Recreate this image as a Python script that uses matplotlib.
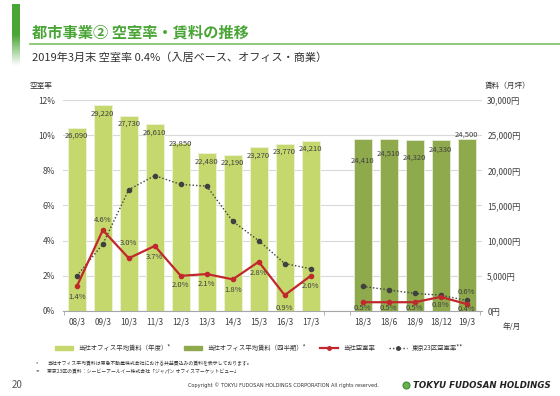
import numpy as np
import matplotlib.pyplot as plt
from matplotlib.patches import Patch
from matplotlib.lines import Line2D
from matplotlib.colors import LinearSegmentedColormap

plt.rcParams['font.family'] = ['Noto Sans CJK JP', 'DejaVu Sans']

# data
annual_labels = ['08/3', '09/3', '10/3', '11/3', '12/3', '13/3', '14/3', '15/3', '16/3', '17/3']
annual_rent = [26090, 29220, 27730, 26610, 23850, 22480, 22190, 23270, 23770, 24210]
annual_vac = [1.4, 4.6, 3.0, 3.7, 2.0, 2.1, 1.8, 2.8, 0.9, 2.0]
annual_tokyo = [2.0, 3.8, 6.9, 7.7, 7.2, 7.1, 5.1, 4.0, 2.7, 2.4]

quarter_labels = ['18/3', '18/6', '18/9', '18/12', '19/3']
quarter_rent = [24410, 24510, 24320, 24330, 24500]
quarter_vac = [0.5, 0.5, 0.5, 0.8, 0.4]
quarter_tokyo = [1.4, 1.2, 1.0, 0.9, 0.6]

# styles
c_light = '#c5d86d'
c_dark = '#8eaa4c'
c_red = '#c0282d'
c_dot = '#404040'
c_text = '#404040'

xa = np.arange(len(annual_labels))
xq = np.arange(len(quarter_labels)) + len(annual_labels) + 1

fig = plt.figure(figsize=(5.6, 3.96), dpi=100)

# left green gradient bar
gax = fig.add_axes([12 / 560, 1 - 66 / 396, 8 / 560, 62 / 396])
cmap = LinearSegmentedColormap.from_list('g', ['#4aa537', '#4aa537', '#ffffff'])
grad = np.linspace(0, 1, 100).reshape(-1, 1)
gax.imshow(grad, aspect='auto', cmap=cmap)
gax.axis('off')

# title
fig.text(32 / 560, 1 - 33 / 396, '都市事業② 空室率・賃料の推移', fontsize=11, fontweight='bold',
         color='#4aa537', va='center', ha='left')
fig.add_artist(Line2D([30 / 560, 1.0], [1 - 44 / 396, 1 - 44 / 396], color='#7cc060', lw=1.2))
fig.text(32 / 560, 1 - 58 / 396, '2019年3月末 空室率 0.4%（入居ベース、オフィス・商業）', fontsize=8,
         color='#333333', va='center', ha='left')

ax = fig.add_axes([63.3 / 560, 1 - 311 / 396, (481.7 - 63.3) / 560, 211 / 396])
ax2 = ax.twinx()
ax.set_zorder(ax2.get_zorder() + 1)
ax.patch.set_visible(False)

ax.set_xlim(-0.52, 15.58)
ax.set_ylim(0, 12)
ax2.set_ylim(0, 30000)

# grid and bars on the rent axis
ax2.set_yticks(np.arange(0, 30001, 5000))
ax2.yaxis.grid(True, color='#d9d9d9', lw=0.8)
ax2.set_axisbelow(True)
ax2.bar(xa, annual_rent, width=0.69, color=c_light, edgecolor='#eef3d8', lw=0.6)
ax2.bar(xq, quarter_rent, width=0.7, color=c_dark, edgecolor='#e6eed8', lw=0.6)

a_off = [-8, -8, -8, -9, 0, -9, -8, -8, -8, -8]
q_off = [-21, -15, -18, -10, 4]
for x, v, o in zip(list(xa) + list(xq), annual_rent + quarter_rent, a_off + q_off):
    ax2.annotate(f'{v:,}', (x, v), xytext=(0, o), textcoords='offset pixels',
                 ha='center', va='center', fontsize=5.5, color=c_text)

# vacancy lines
ax.plot(xa, annual_tokyo, ls=(0, (1, 1.5)), lw=1, color=c_dot, marker='o', ms=3)
ax.plot(xq, quarter_tokyo, ls=(0, (1, 1.5)), lw=1, color=c_dot, marker='o', ms=3)
ax.plot(xa, annual_vac, color=c_red, lw=1.6, marker='o', ms=3)
ax.plot(xq, quarter_vac, color=c_red, lw=1.6, marker='o', ms=3)

va_off = [-11, 10, 15, -11, -9, -10, -11, -11, -13, -10]
vq_off = [-6, -6, -6, -8, -5]
for x, v, o in zip(list(xa) + list(xq), annual_vac + quarter_vac, va_off + vq_off):
    ax.annotate(f'{v:.1f}%', (x, v), xytext=(0, o), textcoords='offset pixels',
                ha='center', va='center', fontsize=5.5, color=c_text)
ax.annotate(f'{quarter_tokyo[-1]:.1f}%', (xq[-1], quarter_tokyo[-1]), xytext=(0, 8),
            textcoords='offset pixels', ha='center', va='center', fontsize=5.5, color=c_text)

# axes styling
ax.set_yticks(np.arange(0, 13, 2))
ax.set_yticklabels([f'{v}%' for v in range(0, 13, 2)])
ax.set_xticks(list(xa) + list(xq), annual_labels + quarter_labels)
ax.set_xticks([-0.5, 9.5, 10.5, 15.5], minor=True)
ax.tick_params(axis='x', which='major', length=0, labelsize=6, colors=c_text, pad=5)
ax.tick_params(axis='x', which='minor', length=3, color='#a6a6a6')
ax.tick_params(axis='y', length=0, labelsize=6, colors=c_text, pad=6)
ax2.set_yticklabels([f'{v:,}円' for v in range(0, 30001, 5000)])
ax2.tick_params(axis='y', length=0, labelsize=6, colors=c_text, pad=4)
for a in (ax, ax2):
    for s in a.spines.values():
        s.set_visible(False)
ax.spines['bottom'].set_visible(True)
ax.spines['bottom'].set_color('#a6a6a6')

fig.text(29 / 560, 1 - 86 / 396, '空室率', fontsize=5.5, color='#333333', va='center')
fig.text(485 / 560, 1 - 86 / 396, '賃料（月坪）', fontsize=5.5, color='#333333', va='center')
fig.text(503 / 560, 1 - 327 / 396, '年/月', fontsize=5.5, color='#333333', va='center')

# legend
handles = [Patch(color=c_light), Patch(color=c_dark),
           Line2D([], [], color=c_red, lw=1.6, marker='o', ms=2.5),
           Line2D([], [], color=c_dot, lw=1, ls=(0, (1, 1.5)), marker='o', ms=2.5)]
labels = ['当社オフィス平均賃料（年度）*', '当社オフィス平均賃料（四半期）*', '当社空室率', '東京23区空室率**']
fig.legend(handles, labels, loc='center', bbox_to_anchor=(259 / 560, 1 - 348 / 396), ncol=4,
           frameon=False, fontsize=4.6, handlelength=2.9, handleheight=0.6,
           handletextpad=0.8, columnspacing=2.1, labelcolor='#333333')

# footnotes
fig.text(36 / 560, 1 - 364 / 396, '*', fontsize=3.5, color='#333333', va='center')
fig.text(47 / 560, 1 - 364 / 396, '当社オフィス平均賃料は東急不動産株式会社における共益費込みの賃料を表示しております。',
         fontsize=3.5, color='#333333', va='center')
fig.text(36 / 560, 1 - 372 / 396, '**', fontsize=3.5, color='#333333', va='center')
fig.text(47 / 560, 1 - 372 / 396, '東京23区の賃料：シービーアールイー株式会社「ジャパン オフィスマーケットビュー」',
         fontsize=3.5, color='#333333', va='center')

fig.text(12 / 560, 1 - 385 / 396, '20', fontsize=7, color='#555555', va='center')
fig.text(283 / 560, 1 - 385 / 396, 'Copyright © TOKYU FUDOSAN HOLDINGS CORPORATION All rights reserved.',
         fontsize=3.6, color='#333333', va='center', ha='center', family='DejaVu Sans')
fig.add_artist(Line2D([406 / 560], [1 - 385 / 396], marker='o', ms=5, color='#6ab04c',
                      markeredgecolor='#3d8b37', mew=0.8))
fig.text(413 / 560, 1 - 385 / 396, 'TOKYU FUDOSAN HOLDINGS', fontsize=6.2, fontweight='bold',
         style='italic', color='#222222', va='center', family='DejaVu Sans')

fig.savefig('out.png', dpi=100)
